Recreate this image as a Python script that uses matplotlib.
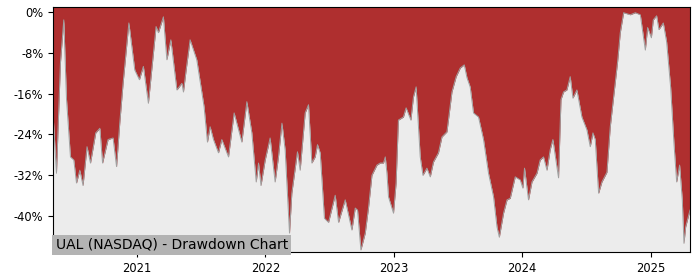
import matplotlib
matplotlib.use("Agg")
import matplotlib.dates as mdates
import matplotlib.pyplot as plt
import pandas as pd

# drawdown, x as decimal year
year_pos = [
    2020.347, 2020.374, 2020.405, 2020.431, 2020.452, 2020.483, 2020.509, 2020.530,
    2020.556, 2020.581, 2020.612, 2020.639, 2020.680, 2020.712, 2020.733, 2020.776,
    2020.815, 2020.842, 2020.867, 2020.893, 2020.938, 2020.984, 2021.018, 2021.049,
    2021.088, 2021.148, 2021.166, 2021.205, 2021.232, 2021.263, 2021.310, 2021.349,
    2021.361, 2021.382, 2021.413, 2021.465, 2021.522, 2021.548, 2021.569, 2021.595,
    2021.634, 2021.660, 2021.712, 2021.756, 2021.816, 2021.855, 2021.894, 2021.928,
    2021.946, 2021.965, 2021.998, 2022.037, 2022.076, 2022.102, 2022.129, 2022.154,
    2022.188, 2022.206, 2022.250, 2022.271, 2022.310, 2022.336, 2022.362, 2022.388,
    2022.406, 2022.427, 2022.460, 2022.492, 2022.544, 2022.570, 2022.622, 2022.674,
    2022.700, 2022.718, 2022.744, 2022.778, 2022.804, 2022.830, 2022.869, 2022.895,
    2022.920, 2022.934, 2022.947, 2022.959, 2022.998, 2023.019, 2023.037, 2023.076,
    2023.097, 2023.134, 2023.154, 2023.175, 2023.207, 2023.228, 2023.259, 2023.285,
    2023.310, 2023.349, 2023.376, 2023.415, 2023.454, 2023.487, 2023.519, 2023.550,
    2023.571, 2023.596, 2023.622, 2023.661, 2023.700, 2023.739, 2023.778, 2023.805,
    2023.823, 2023.856, 2023.883, 2023.908, 2023.947, 2023.986, 2024.007, 2024.020,
    2024.051, 2024.078, 2024.117, 2024.142, 2024.168, 2024.195, 2024.220, 2024.241,
    2024.285, 2024.304, 2024.324, 2024.350, 2024.376, 2024.397, 2024.428, 2024.467,
    2024.506, 2024.532, 2024.553, 2024.571, 2024.597, 2024.623, 2024.662, 2024.688,
    2024.714, 2024.745, 2024.766, 2024.792, 2024.844, 2024.883, 2024.922, 2024.961,
    2024.979, 2025.006, 2025.021, 2025.047, 2025.065, 2025.099, 2025.125, 2025.156,
    2025.182, 2025.203, 2025.226, 2025.247, 2025.260, 2025.273, 2025.307,
]
drawdown_pct = [
    -19.8, -31.6, -10.0, -1.6, -17.0, -28.4, -29.0, -33.5,
    -31.0, -34.0, -26.4, -29.6, -23.7, -22.8, -29.6, -25.0,
    -24.7, -30.3, -21.8, -14.0, -2.2, -11.4, -13.3, -10.7,
    -17.9, -2.9, -4.1, -1.0, -9.4, -5.5, -15.3, -14.0,
    -15.7, -11.4, -5.5, -9.4, -18.6, -25.5, -22.5, -25.0,
    -27.6, -25.0, -28.4, -19.8, -25.5, -17.6, -23.7, -33.3,
    -29.6, -34.0, -29.0, -24.7, -33.3, -28.4, -21.8, -27.0,
    -43.3, -35.5, -27.4, -31.0, -19.8, -18.2, -29.6, -28.4,
    -26.0, -27.6, -40.4, -41.2, -35.9, -41.2, -36.8, -42.7,
    -38.4, -38.8, -46.6, -43.3, -38.2, -32.0, -30.0, -29.6,
    -29.6, -28.4, -31.6, -36.2, -39.4, -33.5, -21.2, -20.6,
    -18.8, -21.2, -16.7, -14.7, -28.4, -32.0, -30.6, -32.3,
    -29.4, -27.6, -24.5, -23.5, -15.7, -12.7, -11.0, -10.4,
    -12.9, -14.7, -19.8, -20.6, -25.0, -31.6, -36.2, -42.1,
    -44.1, -39.4, -36.8, -36.5, -32.3, -32.9, -34.5, -30.6,
    -36.8, -33.3, -31.6, -29.0, -28.4, -31.0, -27.0, -25.0,
    -32.5, -17.2, -15.7, -15.3, -12.7, -16.9, -15.3, -20.6,
    -23.1, -26.4, -23.7, -25.0, -35.5, -33.3, -31.4, -22.5,
    -16.7, -9.8, -4.1, -0.2, -0.6, -0.2, -0.6, -7.5,
    -3.1, -5.1, -1.6, -0.8, -3.5, -2.2, -5.9, -14.7,
    -25.7, -33.3, -30.0, -36.8, -45.3, -42.1, -38.8,
]
year_ticks = [2021, 2022, 2023, 2024, 2025]
pct_ticks = [0, -8, -16, -24, -32, -40]
label = "UAL (NASDAQ) - Drawdown Chart"


def to_date(y):
    whole = int(y)
    return pd.Timestamp(f"{whole}-01-01") + pd.Timedelta(days=(y - whole) * 365.25)


dates = [to_date(y) for y in year_pos]
y_bottom, y_top = -47.0, 0.92

fig = plt.figure(figsize=(7, 2.8), dpi=100)
ax = fig.add_axes([0.0757, 0.1, 0.91, 0.875])
ax.set_facecolor("#af2f2f")
ax.fill_between(dates, drawdown_pct, y_bottom, color="#ececec", lw=0)
ax.plot(dates, drawdown_pct, color="#a0a0a0", lw=0.7)

ax.set_xlim(dates[0], dates[-1])
ax.set_ylim(y_bottom, y_top)
ax.set_yticks(pct_ticks)
ax.set_yticklabels([f"{v}%" for v in pct_ticks])
ax.set_xticks([pd.Timestamp(f"{y}-01-01") for y in year_ticks])
ax.xaxis.set_major_formatter(mdates.DateFormatter("%Y"))
ax.tick_params(labelsize=8.3, length=3.5)

ax.text(0.004, 0.0, label, transform=ax.transAxes, fontsize=10.0, ha="left", va="bottom",
        bbox=dict(facecolor="#b3b3b3", edgecolor="none", pad=2.2))

fig.savefig("out.png", dpi=100)
